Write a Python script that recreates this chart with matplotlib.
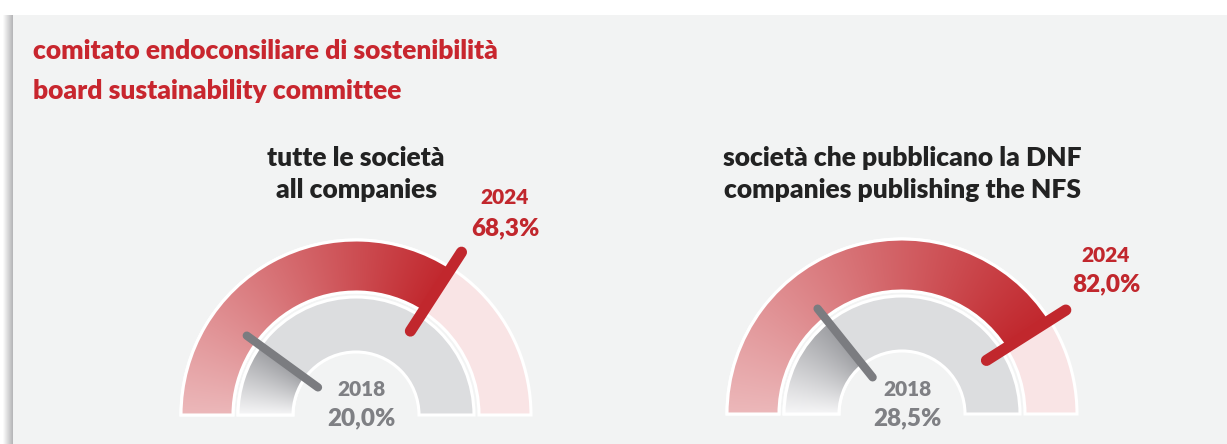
import numpy as np
import matplotlib.pyplot as plt
from matplotlib.patches import Wedge, Rectangle
from matplotlib.colors import to_rgb

# data
titles_it = ["tutte le società", "società che pubblicano la DNF"]
titles_en = ["all companies", "companies publishing the NFS"]
pct_2018 = [20.0, 28.5]
pct_2024 = [68.3, 82.0]
year_old = "2018"
year_new = "2024"

W, H = 1227, 444
RED = "#c1272d"
GREY_TXT = "#7f8084"
BG = "#f2f3f3"

plt.rcParams['font.family'] = ['Lato', 'DejaVu Sans']

fig = plt.figure(figsize=(W / 100, H / 100), dpi=100)
ax = fig.add_axes([0, 0, 1, 1])
ax.set_xlim(0, W)
ax.set_ylim(0, H)
ax.axis("off")


def Y(y):
    return H - y


# panel + left shadow
for i in range(10):
    a = 0.03 + 0.05 * i
    ax.add_patch(Rectangle((3 + i, 0), 1, Y(15), color="#6a6a6e", alpha=a, lw=0))
ax.add_patch(Rectangle((13, 0), W, Y(15), color=BG, lw=0))


def grad_arc(cx, cy, r_out, r_in, frac, c0, c1, rest):
    # remainder of the ring
    ax.add_patch(Wedge((cx, cy), r_out, 0, 180, width=r_out - r_in,
                       facecolor=rest, edgecolor="white", lw=2.2, zorder=2))
    # gradient part, drawn as an image clipped to the filled wedge
    t_end = 180 - 180 * frac / 100
    n = 400
    xs = np.linspace(cx - r_out, cx + r_out, n)
    ys = np.linspace(cy, cy + r_out, n // 2)
    gx, gy = np.meshgrid(xs, ys)
    ang = np.degrees(np.arctan2(gy - cy, gx - cx))
    t = np.clip((180 - ang) / (180 - t_end), 0, 1)[..., None]
    img = (1 - t) * np.array(to_rgb(c0)) + t * np.array(to_rgb(c1))
    wd = Wedge((cx, cy), r_out, t_end, 180, width=r_out - r_in,
               facecolor="none", edgecolor="white", lw=2.2, zorder=4)
    ax.add_patch(wd)
    im = ax.imshow(img, extent=(xs[0], xs[-1], ys[0], ys[-1]), origin="lower",
                   zorder=3, interpolation="bilinear", aspect="auto")
    im.set_clip_path(wd)
    return t_end


def needle(cx, cy, ang, r0, r1, color, lw):
    a = np.radians(ang)
    ax.plot([cx + r0 * np.cos(a), cx + r1 * np.cos(a)],
            [cy + r0 * np.sin(a), cy + r1 * np.sin(a)],
            color=color, lw=lw, solid_capstyle="round", zorder=6)


centers = [(356, 415), (902, 414)]
new_lbl = [(505, 198, 228), (1106, 255, 284)]

for i, (cx, cy_pix) in enumerate(centers):
    cy = Y(cy_pix)
    a_new = grad_arc(cx, cy, 175, 123, pct_2024[i], "#ecb8ba", RED, "#f9e4e5")
    a_old = grad_arc(cx, cy, 118, 63, pct_2018[i], "#f6f6f7", "#9c9da1", "#dcdddf")
    needle(cx, cy, a_old, 47, 135, "#7b7c80", 6)
    needle(cx, cy, a_new, 100, 194, RED, 8)

    ax.text(cx, Y(158), titles_it[i], ha="center", va="center", fontsize=19,
            fontweight="heavy", color="#222222")
    ax.text(cx, Y(190), titles_en[i], ha="center", va="center", fontsize=19,
            fontweight="heavy", color="#222222")

    lx, ly1, ly2 = new_lbl[i]
    ax.text(lx, Y(ly1), year_new, ha="center", va="center", fontsize=15,
            fontweight="heavy", color=RED)
    ax.text(lx, Y(ly2), f"{pct_2024[i]:.1f}%".replace(".", ","), ha="center",
            va="center", fontsize=17.5, fontweight="heavy", color=RED)
    ax.text(cx + 5, Y(389), year_old, ha="center", va="center", fontsize=15,
            fontweight="heavy", color=GREY_TXT, zorder=7)
    ax.text(cx + 5, Y(418), f"{pct_2018[i]:.1f}%".replace(".", ","), ha="center",
            va="center", fontsize=17.5, fontweight="heavy", color=GREY_TXT, zorder=7)

ax.text(33, Y(51), "comitato endoconsiliare di sostenibilità", ha="left",
        va="center", fontsize=19, fontweight="heavy", color="#c8262e")
ax.text(33, Y(91), "board sustainability committee", ha="left",
        va="center", fontsize=19, fontweight="heavy", color="#c8262e")

fig.savefig("out.png", dpi=100, facecolor="white")
